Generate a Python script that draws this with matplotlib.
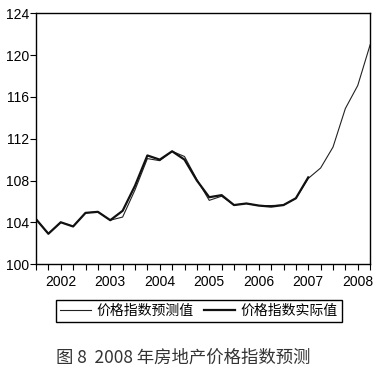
import matplotlib.pyplot as plt
import numpy as np

plt.rcParams['font.family'] = ['Liberation Sans', 'Noto Sans CJK SC', 'DejaVu Sans']

# quarterly, 2002Q1 .. 2008Q4
actual = [104.3, 102.9, 104.0, 103.6, 104.9, 105.0, 104.2, 105.1, 107.5, 110.4,
          110.0, 110.8, 110.0, 108.0, 106.4, 106.6, 105.65, 105.8, 105.6, 105.5,
          105.65, 106.3, 108.3]
forecast = [104.3, 102.9, 104.0, 103.6, 104.9, 105.0, 104.2, 104.5, 107.1, 110.1,
            109.9, 110.8, 110.3, 108.1, 106.1, 106.5, 105.65, 105.8, 105.6, 105.6,
            105.65, 106.3, 108.2, 109.2, 111.2, 114.9, 117.1, 121.0]
years = ['2002', '2003', '2004', '2005', '2006', '2007', '2008']
yticks = [100, 104, 108, 112, 116, 120, 124]

fig = plt.figure(figsize=(3.75, 3.74), dpi=100)
ax = fig.add_axes([0.096, 0.294, 0.891, 0.670])

l1, = ax.plot(np.arange(len(forecast)), forecast, color='#222222', lw=0.8)
l2, = ax.plot(np.arange(len(actual)), actual, color='#111111', lw=1.6)

ax.set_xlim(0, len(forecast) - 1)
ax.set_ylim(100, 124)
ax.set_yticks(yticks)
ax.set_xticks(np.arange(0, len(forecast), 1))
ax.set_xticklabels([])
for k, y in enumerate(years):
    ax.text(2 + 4 * k, -0.045, y, transform=ax.get_xaxis_transform(),
            ha='center', va='top', fontsize=10)
ax.tick_params(axis='both', direction='out', length=4, width=0.8, labelsize=10)
ax.tick_params(axis='y', pad=1)
for s in ax.spines.values():
    s.set_linewidth(1.0)

fig.legend([l1, l2], ['价格指数预测值', '价格指数实际值'], loc='center',
           bbox_to_anchor=(0.53, 0.168), ncol=2, fancybox=False, edgecolor='black',
           framealpha=1, handlelength=2.2, handletextpad=0.4, columnspacing=0.8,
           borderpad=0.3, prop={'family': ['Noto Sans CJK SC'], 'size': 10})

fig.text(0.49, 0.045, '图 8  2008 年房地产价格指数预测', ha='center', va='center',
         fontsize=12.5, color='#333333', family=['Noto Sans CJK SC'], fontweight='light')

fig.savefig('out.png', dpi=100)
